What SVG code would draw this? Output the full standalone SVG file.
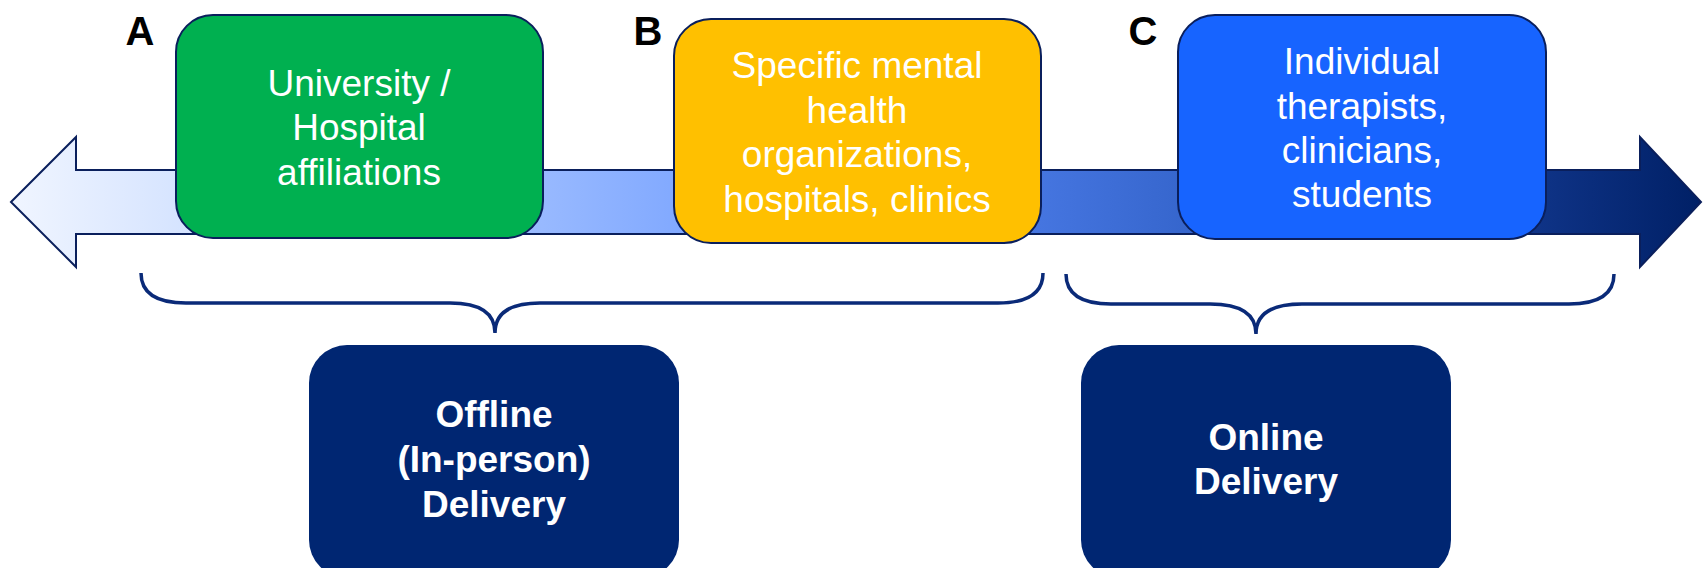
<svg xmlns="http://www.w3.org/2000/svg" width="1703" height="568" viewBox="0 0 1703 568">
  <defs>
    <linearGradient id="arrowGrad" gradientUnits="userSpaceOnUse" x1="11" y1="0" x2="1701" y2="0">
      <stop offset="0" stop-color="#f0f5ff"/>
      <stop offset="0.1" stop-color="#d6e4ff"/>
      <stop offset="0.3" stop-color="#9cbcff"/>
      <stop offset="0.4" stop-color="#80a8ff"/>
      <stop offset="0.58" stop-color="#4a7ae6"/>
      <stop offset="0.7" stop-color="#3565cc"/>
      <stop offset="0.85" stop-color="#173e99"/>
      <stop offset="1" stop-color="#002066"/>
    </linearGradient>
  </defs>
  <style>
    .top { stroke: #0a1f5c; stroke-width: 2; }
    .bot { fill: #002672; }
    .lbl { font-family: "Liberation Sans", Arial, sans-serif; font-weight: bold; font-size: 40px; fill: #000; }
    .t { font-family: "Liberation Sans", Arial, sans-serif; font-size: 37px; fill: #fff; text-anchor: middle; }
    .b { font-family: "Liberation Sans", Arial, sans-serif; font-size: 37px; font-weight: bold; fill: #fff; text-anchor: middle; }
    .brace { fill: none; stroke: #0a2a78; stroke-width: 3.5; }
  </style>

  <g id="connectors">
    <polygon id="timeline-arrow" points="11,202 76,137 76,170 1640,170 1640,137 1701,202 1640,267 1640,234 76,234 76,267" fill="url(#arrowGrad)" stroke="#0a1f5c" stroke-width="2"/>
    <path id="brace-offline" class="brace" d="M141,273 Q141,303 186,303 L450,303 Q495,303 495,333 Q495,303 540,303 L998,303 Q1043,303 1043,273"/>
    <path id="brace-online" class="brace" d="M1066,274 Q1066,304 1111,304 L1210,304 Q1256,304 1256,334 Q1256,304 1302,304 L1569,304 Q1614,304 1614,274"/>
  </g>

  <g id="label-A"><text class="lbl" x="140" y="45" text-anchor="middle">A</text></g>
  <g id="label-B"><text class="lbl" x="648" y="45" text-anchor="middle">B</text></g>
  <g id="label-C"><text class="lbl" x="1143" y="45" text-anchor="middle">C</text></g>

  <g id="node-university">
    <rect class="top" x="176" y="15" width="367" height="223" rx="37" ry="37" fill="#00b050"/>
    <text class="t" x="359" y="96">University /</text>
    <text class="t" x="359" y="140">Hospital</text>
    <text class="t" x="359" y="185">affiliations</text>
  </g>

  <g id="node-organizations">
    <rect class="top" x="674" y="19" width="367" height="224" rx="37" ry="37" fill="#ffc000"/>
    <text class="t" x="857" y="78">Specific mental</text>
    <text class="t" x="857" y="123">health</text>
    <text class="t" x="857" y="167">organizations,</text>
    <text class="t" x="857" y="212">hospitals, clinics</text>
  </g>

  <g id="node-individual">
    <rect class="top" x="1178" y="15" width="368" height="224" rx="37" ry="37" fill="#1764ff"/>
    <text class="t" x="1362" y="74">Individual</text>
    <text class="t" x="1362" y="119">therapists,</text>
    <text class="t" x="1362" y="163">clinicians,</text>
    <text class="t" x="1362" y="207">students</text>
  </g>

  <g id="node-offline">
    <rect class="bot" x="309" y="345" width="370" height="233" rx="38" ry="38"/>
    <text class="b" x="494" y="427">Offline</text>
    <text class="b" x="494" y="472">(In-person)</text>
    <text class="b" x="494" y="517">Delivery</text>
  </g>

  <g id="node-online">
    <rect class="bot" x="1081" y="345" width="370" height="233" rx="38" ry="38"/>
    <text class="b" x="1266" y="450">Online</text>
    <text class="b" x="1266" y="494">Delivery</text>
  </g>
</svg>
